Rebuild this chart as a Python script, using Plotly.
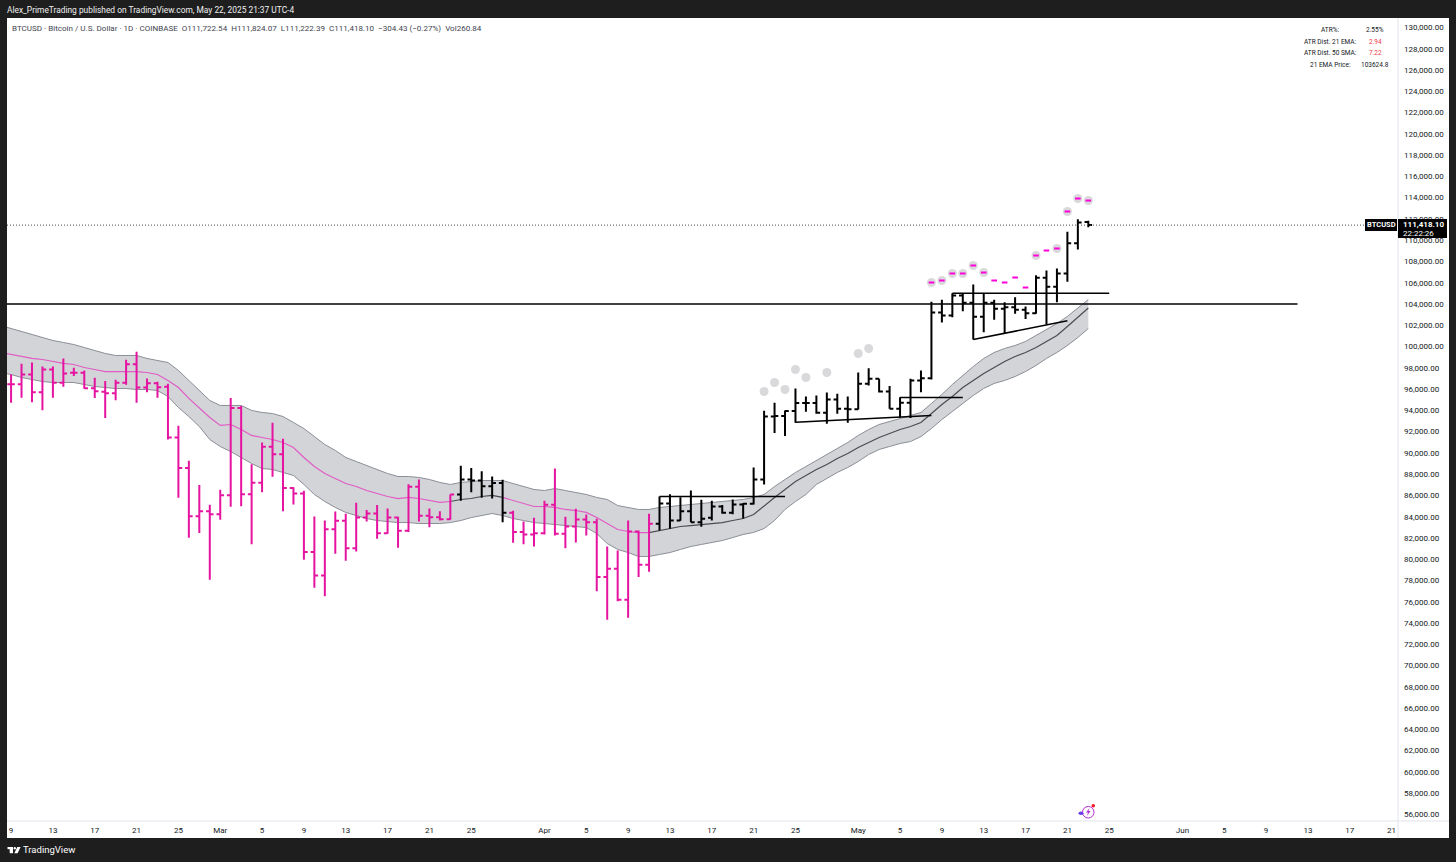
import numpy as np
import pandas as pd
import plotly.graph_objects as go

dates = pd.date_range("2025-02-09", periods=104)
band_dates = pd.date_range("2025-02-08", periods=105)

opens = [96460, 96460, 97370, 95710, 97840, 96590, 97530, 97530, 96090, 95740, 95620, 96590, 98340, 96150, 96560, 96210,
         91450, 88570, 84050, 84520, 84240, 86010, 94210, 86120, 87190, 90570, 89880, 86690, 86180, 80670, 78470,
         82830, 83610, 81040, 83930, 84300, 82450, 83930, 82670, 86810, 84080, 83960, 83770, 86090, 87500, 87400, 86870, 87160,
         84370, 82550, 82330, 82450, 85120, 82390, 83080, 83740, 83490, 78320, 79100, 76190, 82610, 79480, 83330,
         85240, 83640, 84520, 83490, 83900, 84960, 84370, 85150, 85210, 87500, 93420, 93460, 93930, 94680, 94680, 93770, 95020,
         94140, 94110, 96500, 96970, 95770, 94140, 94710, 96810, 97030, 103200, 102920, 104800, 104110, 102800, 104110, 103550,
         103700, 103450, 103140, 106460, 105620, 106870, 109720, 111722.54]
highs = [97370, 98380, 98500, 98130, 98130, 98880, 98000, 97750, 97060, 96750, 96870, 98750, 99500, 97000, 96680, 96500,
         92550, 89260, 86970, 85120, 86530, 95150, 94400, 88940, 90980, 92830, 91320, 86780, 86440, 84020, 83640,
         84490, 84270, 85310, 84620, 85090, 84770, 83990, 87060, 87500, 84770, 84520, 86090, 88780, 88570, 88280, 87780, 87470,
         84550, 83550, 83900, 85490, 88530, 83990, 84740, 84210, 83800, 81200, 80820, 83640, 82700, 84270, 85900,
         86120, 85840, 86470, 85590, 85490, 85090, 85620, 85280, 88630, 93960, 94710, 93990, 96060, 95300, 95400, 95680, 95560,
         95300, 97560, 97970, 96970, 96280, 95240, 96970, 97750, 104210, 104390, 105020, 104960, 105840, 105020, 104390, 104170,
         104640, 103770, 106710, 107150, 107340, 110790, 111980, 111824.07]
lows = [94710, 95180, 94770, 94020, 95180, 96210, 97220, 96030, 95150, 93270, 94960, 96400, 94710, 95710, 95180, 91260,
        85780, 82020, 82460, 78070, 83710, 84930, 84990, 81420, 86310, 87750, 84520, 85150, 79950, 77320, 76530,
        80510, 79850, 80730, 83550, 81920, 82390, 81080, 82550, 83550, 83020, 83640, 83710, 85490, 86310, 85780, 85710, 83490,
        81550, 81420, 81200, 82330, 82230, 81040, 81580, 82230, 77000, 74310, 76060, 74490, 78320, 78820, 82710,
        82860, 83610, 83490, 83050, 83650, 84270, 84240, 83830, 85150, 87030, 91860, 91580, 92830, 93860, 93670, 92730, 93670,
        92830, 94080, 96340, 95680, 94140, 93330, 93270, 95710, 96900, 102260, 102760, 103330, 100660, 101350, 102510, 101260,
        103080, 102580, 103080, 102070, 104170, 106090, 109130, 111222.39]
closes = [96460, 97370, 95710, 97840, 96590, 97470, 97530, 96090, 95800, 95620, 96590, 98340, 96150, 96560, 96180, 91450,
          88570, 84050, 84520, 84240, 86010, 94210, 86120, 87190, 90570, 89880, 86690, 86180, 80670, 78470, 82830,
          83610, 81040, 83930, 84300, 82450, 83930, 82670, 86810, 84080, 83960, 83770, 86090, 87500, 87400, 86870, 87160, 84370,
          82550, 82330, 82450, 85120, 82390, 83080, 83740, 83490, 78320, 79100, 76190, 82610, 79480, 83330, 85240,
          83640, 84520, 83490, 83800, 84960, 84370, 85150, 85210, 87500, 93420, 93460, 93930, 94680, 94680, 93770, 95020, 94140,
          94110, 96500, 96970, 95770, 94140, 94710, 96810, 97030, 103200, 102920, 104800, 104110, 102800, 104110, 103550, 103700,
          103450, 103140, 106460, 105620, 106870, 109720, 111660, 111418.10]

# bars that trade above the band are black, everything else stays pink
black_runs = [(43, 47), (62, 103)]

band_upper = [101980, 101700, 101420, 101130, 100850, 100570, 100380, 100190, 99910, 99630, 99350, 99160, 99160, 99160, 98880, 98690,
              98500, 97750, 96810, 95870, 94930, 94460, 94460, 94460, 93990, 93800, 93700, 93420, 92860, 92290, 91540, 90790,
              90230, 89570, 89190, 88810, 88440, 88060, 87780, 87780, 87690, 87500, 87220, 87030, 87220, 87310, 87400, 87400, 87400,
              87120, 86840, 86560, 86460, 86650, 86460, 86280, 86090, 85810, 85620, 85050, 84870, 84680, 84680, 84870,
              84960, 85050, 85150, 85240, 85330, 85430, 85520, 85620, 85810, 86090, 86840, 87500, 88160, 88720, 89290, 89850, 90410,
              90980, 91640, 92200, 92670, 92950, 93230, 93520, 93800, 94650, 95490, 96430, 97280, 98120, 98880, 99440, 99820,
              100100, 100480, 101040, 101600, 102170, 102830, 103670, 104420]
band_mid = [99440, 99250, 99060, 98880, 98780, 98600, 98410, 98310, 98030, 97840, 97650, 97650, 97650, 97650, 97560, 97370,
            96810, 96150, 95120, 94270, 93330, 92580, 92670, 92200, 91640, 91450, 91260, 90980, 90510, 89570, 88720, 88060,
            87590, 87120, 86840, 86460, 86180, 85900, 85710, 85810, 85710, 85520, 85340, 85430, 85620, 85710, 85900, 86000, 85810,
            85520, 85240, 84960, 84960, 84870, 84680, 84580, 84400, 83920, 83360, 82800, 82610, 82510, 82510, 82700,
            82890, 83080, 83170, 83270, 83360, 83450, 83640, 83830, 84210, 85050, 85810, 86560, 87310, 87870, 88440, 88910, 89470,
            89940, 90510, 90980, 91450, 91820, 92200, 92480, 92860, 93700, 94550, 95300, 96150, 96810, 97470, 98030, 98590,
            99060, 99440, 99910, 100470, 101040, 101880, 102730, 103620]
band_lower = [97560, 97370, 97090, 96900, 96710, 96620, 96620, 96620, 96430, 96240, 96150, 96050, 96050, 95960, 95960, 95870,
              95300, 94270, 93420, 92480, 91260, 90600, 90130, 89570, 89000, 88530, 88440, 88160, 87880, 87030, 86090, 85430,
              84870, 84400, 84110, 83830, 83640, 83550, 83450, 83450, 83360, 83360, 83360, 83450, 83640, 83920, 84110, 84300, 84110,
              83830, 83640, 83450, 83360, 83270, 83170, 83080, 82980, 82420, 81480, 80920, 80630, 80260, 80260, 80450,
              80630, 80920, 81200, 81390, 81580, 81760, 82040, 82330, 82520, 82890, 83640, 84680, 85430, 86090, 87030, 87590, 88160,
              88630, 89190, 89850, 90320, 90600, 90880, 91070, 91540, 92290, 93140, 93890, 94650, 95400, 96060, 96530, 96810,
              97180, 97650, 98220, 98880, 99440, 100100, 100850, 101700]

dot_dates = ["2025-04-22", "2025-04-23", "2025-04-24", "2025-04-25", "2025-04-26", "2025-04-28", "2025-05-01", "2025-05-02",
             "2025-05-08", "2025-05-09", "2025-05-10", "2025-05-11", "2025-05-12", "2025-05-13",
             "2025-05-18", "2025-05-20", "2025-05-21", "2025-05-22", "2025-05-23"]
dot_values = [95770, 96620, 95960, 97840, 97090, 97560, 99350, 99820,
              106020, 106210, 106870, 106870, 107620, 106960,
              108560, 109220, 112700, 113920, 113730]
dash_dates = ["2025-05-08", "2025-05-09", "2025-05-10", "2025-05-11", "2025-05-12", "2025-05-13", "2025-05-14", "2025-05-15",
              "2025-05-16", "2025-05-17", "2025-05-18", "2025-05-19", "2025-05-20", "2025-05-21", "2025-05-22", "2025-05-23"]
dash_values = [106020, 106210, 106870, 106870, 107620, 106960, 106210, 106020,
               106490, 105550, 108560, 109030, 109220, 112700, 113920, 113730]

# hand drawn trend lines: (start date, start price, end date, end price)
drawn_lines = [
    ("2025-02-08", 104000, "2025-06-12", 104000),
    ("2025-04-12", 85900, "2025-04-24", 85900),
    ("2025-04-25", 92880, "2025-05-08", 93520),
    ("2025-05-05", 95210, "2025-05-11", 95210),
    ("2025-05-10", 105010, "2025-05-25", 105010),
    ("2025-05-12", 100660, "2025-05-21", 102420),
]
last_price = 111418.10

y_ticks = list(range(56000, 130001, 2000))
x_tick_dates = ["2025-02-09", "2025-02-13", "2025-02-17", "2025-02-21", "2025-02-25", "2025-03-01", "2025-03-05", "2025-03-09",
                "2025-03-13", "2025-03-17", "2025-03-21", "2025-03-25", "2025-04-01", "2025-04-05", "2025-04-09", "2025-04-13",
                "2025-04-17", "2025-04-21", "2025-04-25", "2025-05-01", "2025-05-05", "2025-05-09", "2025-05-13", "2025-05-17",
                "2025-05-21", "2025-05-25", "2025-06-01", "2025-06-05", "2025-06-09", "2025-06-13", "2025-06-17", "2025-06-21"]
x_tick_labels = ["9", "13", "17", "21", "25", "Mar", "5", "9", "13", "17", "21", "25", "Apr", "5", "9", "13",
                 "17", "21", "25", "May", "5", "9", "13", "17", "21", "25", "Jun", "5", "9", "13", "17", "21"]

title_line = "Alex_PrimeTrading published on TradingView.com, May 22, 2025 21:37 UTC-4"
legend_line = "BTCUSD · Bitcoin / U.S. Dollar · 1D · COINBASE  O111,722.54  H111,824.07  L111,222.39  C111,418.10  −304.43 (−0.27%)  Vol260.84"
table_labels = ["ATR%:", "ATR Dist. 21 EMA:", "ATR Dist. 50 SMA:", "21 EMA Price:"]
table_values = ["2.55%", "2.94", "7.22", "103624.8"]
table_colors = ["#131722", "#f23645", "#f23645", "#131722"]

PINK = "#e514a0"
MAGENTA = "#ff00d8"
BAND = "#d3d4d8"
DOT = "#d9d9db"
EDGE = "#8b8e96"
DARK = "#1e1e1e"
FONT = "Roboto"

# pixel layout of the screenshot
W, H = 1456, 862
L, R, T, B = 7, 1398, 18, 821
X_RANGE = ["2025-02-08 14:40", "2025-06-21 14:40"]
Y_RANGE = [55387, 130893]


def px(x):
    return (x - L) / (R - L)


def py(y):
    return 1 - (y - T) / (B - T)


def box(x0, y0, x1, y1, fill, line=None, kind="rect"):
    return dict(type=kind, xref="paper", yref="paper", x0=px(x0), x1=px(x1), y0=py(y0), y1=py(y1),
                fillcolor=fill, line=dict(width=0 if line is None else 1, color=line), layer="above")


def label(x, y, text, size=8, color="#131722", anchor="left", family=FONT):
    return dict(xref="paper", yref="paper", x=px(x), y=py(y), text=text, showarrow=False, xanchor=anchor,
                yanchor="middle", align=anchor, font=dict(size=size, color=color, family=family),
                borderpad=0, borderwidth=0)


df = pd.DataFrame({"date": dates, "open": opens, "high": highs, "low": lows, "close": closes})
is_black = np.zeros(len(df), dtype=bool)
for a, b in black_runs:
    is_black[a:b + 1] = True

fig = go.Figure()

# band
fig.add_trace(go.Scatter(x=band_dates, y=band_lower, mode="lines", line=dict(color=EDGE, width=1), showlegend=False))
fig.add_trace(go.Scatter(x=band_dates, y=band_upper, mode="lines", line=dict(color=EDGE, width=1), fill="tonexty",
                         fillcolor=BAND, showlegend=False))

# middle line changes colour together with the bars
mid_pink = [v if (i <= 43 or 48 <= i <= 62) else None for i, v in enumerate(band_mid)]
mid_dark = [v if (43 <= i <= 48 or i >= 62) else None for i, v in enumerate(band_mid)]
fig.add_trace(go.Scatter(x=band_dates, y=mid_pink, mode="lines", line=dict(color="#e05cc4", width=1.2), showlegend=False))
fig.add_trace(go.Scatter(x=band_dates, y=mid_dark, mode="lines", line=dict(color="#4a4c52", width=1.2), showlegend=False))

# ohlc draws below scatter on one subplot, so everything above the band goes on overlay axes
fig.add_trace(go.Scatter(x=dot_dates, y=dot_values, mode="markers", marker=dict(color=DOT, size=9),
                         showlegend=False, xaxis="x2", yaxis="y2"))
fig.add_trace(go.Scatter(x=dash_dates, y=dash_values, mode="markers",
                         marker=dict(symbol="line-ew", size=4, line=dict(color=MAGENTA, width=2)),
                         showlegend=False, xaxis="x2", yaxis="y2"))

for sub, color in [(df[~is_black], PINK), (df[is_black], "#000000")]:
    fig.add_trace(go.Ohlc(x=sub["date"], open=sub["open"], high=sub["high"], low=sub["low"], close=sub["close"],
                          increasing=dict(line=dict(color=color, width=2)),
                          decreasing=dict(line=dict(color=color, width=2)),
                          tickwidth=0.36, showlegend=False, xaxis="x2", yaxis="y2"))

for d0, p0, d1, p1 in drawn_lines:
    fig.add_trace(go.Scatter(x=[d0, d1], y=[p0, p1], mode="lines", line=dict(color="#000000", width=1.6),
                             showlegend=False, xaxis="x2", yaxis="y2"))

shapes = [
    # white chart card on the dark page
    dict(type="rect", xref="paper", yref="paper", x0=px(7), x1=px(1449), y0=py(838), y1=py(18),
         fillcolor="#ffffff", line=dict(width=0), layer="below"),
    dict(type="line", xref="paper", yref="paper", x0=px(7), x1=px(1449), y0=py(821), y1=py(821),
         line=dict(color="#e0e3eb", width=1), layer="below"),
    dict(type="line", xref="paper", yref="paper", x0=px(1398), x1=px(1398), y0=py(838), y1=py(18),
         line=dict(color="#e0e3eb", width=1), layer="below"),
    # last price line
    dict(type="line", xref="paper", yref="y", x0=0, x1=px(1365), y0=last_price, y1=last_price,
         line=dict(color="#4a4c52", width=1, dash="1px,2px"), layer="above"),
    # price tags
    box(1365, 219, 1397, 231, "#000000"),
    box(1398, 219, 1447, 238, "#000000"),
    # TradingView logo
    box(7.5, 847, 13, 849.2, "#ffffff"),
    box(9.7, 847, 13, 853.2, "#ffffff"),
    box(13.6, 847, 16, 849.4, "#ffffff", kind="circle"),
    dict(type="path", xref="paper", yref="paper", layer="above", fillcolor="#ffffff", line=dict(width=0),
         path=f"M {px(17.3)} {py(847)} L {px(20.6)} {py(847)} L {px(17.6)} {py(853.2)} L {px(14.3)} {py(853.2)} Z"),
    # alert icon near the axis
    box(1082.5, 806.5, 1094, 818, "rgba(0,0,0,0)", line="#b52bd0", kind="circle"),
    box(1091.5, 804, 1095, 807.5, "#f7162b", kind="circle"),
    box(1078.5, 811.5, 1083.5, 815, "#6a3de8", kind="circle"),
    dict(type="path", xref="paper", yref="paper", layer="above", fillcolor="#b52bd0", line=dict(width=0),
         path=f"M {px(1089.5)} {py(808)} L {px(1086)} {py(812.5)} L {px(1088)} {py(812.5)} L {px(1087)} {py(816)} "
              f"L {px(1090.5)} {py(811)} L {px(1088.5)} {py(811)} Z"),
]

annotations = [
    label(7, 10, title_line, size=8.4, color="#f0f0f0"),
    label(12, 28, legend_line, size=8.05, color="#42454f"),
    label(1366.5, 225, "<b>BTCUSD</b>", size=7.5, color="#ffffff"),
    label(1403, 224.5, "<b>111,418.10</b>", size=8, color="#ffffff"),
    label(1403, 233.5, "22:22:26", size=8, color="#ffffff"),
    label(22.5, 850, "TradingView", size=9.5, color="#ffffff"),
]
for row, y in enumerate([30.5, 42.3, 53.3, 64.5]):
    annotations.append(label(1330, y, table_labels[row], size=6.5, anchor="center"))
    annotations.append(label(1375, y, table_values[row], size=6.5, color=table_colors[row], anchor="center"))

fig.update_layout(
    width=W,
    height=H,
    autosize=False,
    margin=dict(l=L, r=W - R, t=T, b=H - B, pad=0),
    paper_bgcolor=DARK,
    plot_bgcolor="rgba(0,0,0,0)",
    font=dict(family=FONT, size=8, color="#131722"),
    showlegend=False,
    hovermode=False,
    shapes=shapes,
    annotations=annotations,
    xaxis=dict(
        type="date",
        range=X_RANGE,
        rangeslider=dict(visible=False),
        showgrid=False,
        zeroline=False,
        showline=False,
        tickmode="array",
        tickvals=x_tick_dates,
        ticktext=x_tick_labels,
        ticks="",
        ticklabelstandoff=3,
        tickfont=dict(size=8, color="#131722"),
    ),
    yaxis=dict(
        side="right",
        range=Y_RANGE,
        showgrid=False,
        zeroline=False,
        showline=False,
        tickmode="array",
        tickvals=y_ticks,
        tickformat=",.2f",
        ticks="",
        ticklabelstandoff=5,
        tickfont=dict(size=8, color="#131722"),
    ),
    xaxis2=dict(type="date", range=X_RANGE, overlaying="x", visible=False, rangeslider=dict(visible=False)),
    yaxis2=dict(range=Y_RANGE, overlaying="y", side="right", visible=False),
)

fig.write_html("out.html", config={"displayModeBar": False}, post_script="document.body.style.margin='0';")
